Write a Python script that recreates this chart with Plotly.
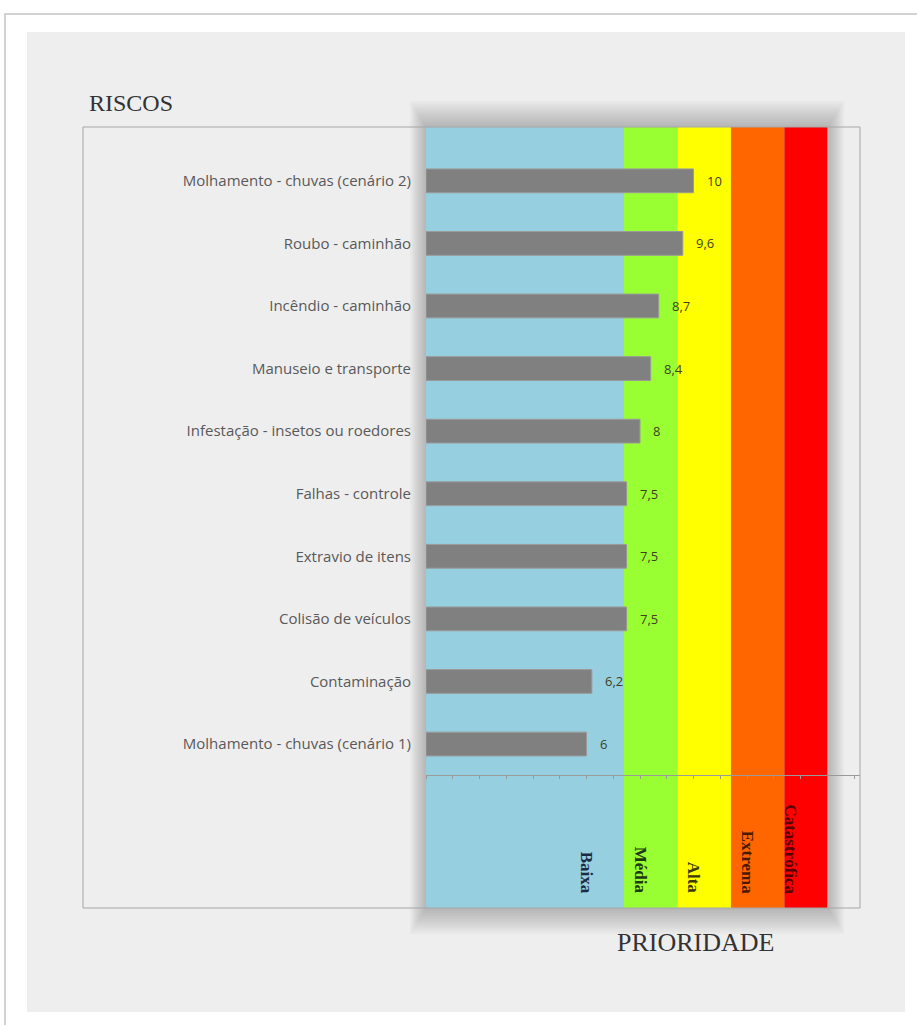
import plotly.graph_objects as go

# ---- data (top to bottom as displayed) ----
categories = [
    "Molhamento - chuvas (cenário 2)",
    "Roubo - caminhão",
    "Incêndio - caminhão",
    "Manuseio e transporte",
    "Infestação - insetos ou roedores",
    "Falhas - controle",
    "Extravio de itens",
    "Colisão de veículos",
    "Contaminação",
    "Molhamento - chuvas (cenário 1)",
]
values = [10, 9.6, 8.7, 8.4, 8, 7.5, 7.5, 7.5, 6.2, 6]

band_names = ["Baixa", "Média", "Alta", "Extrema", "Catastrófica"]
band_edges = [0, 7.4, 9.4, 11.4, 13.4, 15.0]
band_colors = ["#96cfdf", "#99ff33", "#ffff00", "#ff6600", "#ff0000"]
band_text_colors = ["#1c2a44", "#1f3a10", "#3a3a00", "#4a1a00", "#5a0000"]

W, H = 917, 1025
L, R, T, B = 426, 860, 127, 908  # plot area in pixels


def px_x(p):
    return (p - L) / (R - L)


def px_y(p):
    return (B - p) / (B - T)


cats_bottom_up = categories[::-1]
vals_bottom_up = values[::-1]

fig = go.Figure()
fig.add_trace(go.Bar(
    x=vals_bottom_up, y=cats_bottom_up, orientation="h",
    width=0.38,
    marker=dict(color="#808080", line=dict(color="#9a9a9a", width=1)),
    hoverinfo="skip",
))

shapes = []
# outer page border
shapes.append(dict(type="rect", xref="paper", yref="paper",
                   x0=px_x(5), x1=px_x(930), y0=px_y(1040), y1=px_y(14),
                   line=dict(color="#c4c4c4", width=1.5), fillcolor="white", layer="below"))
# gray panel
shapes.append(dict(type="rect", xref="paper", yref="paper",
                   x0=px_x(27), x1=px_x(905), y0=px_y(1012), y1=px_y(32),
                   line=dict(width=0), fillcolor="#eeeeee", layer="below"))
# soft shadow around band area
for i in range(1, 11):
    d = i * 2.0
    shapes.append(dict(type="rect", xref="paper", yref="paper",
                       x0=px_x(L - d * 0.8), x1=px_x(828 + d * 0.8), y0=px_y(B + d * 1.3), y1=px_y(T - d * 1.3),
                       line=dict(width=0), fillcolor="rgba(0,0,0,0.022)", layer="below"))
# priority bands
for i, name in enumerate(band_names):
    shapes.append(dict(type="rect", xref="x", yref="paper",
                       x0=band_edges[i], x1=band_edges[i + 1], y0=0, y1=1,
                       line=dict(width=0), fillcolor=band_colors[i], layer="below"))
# plot box border (includes label area)
shapes.append(dict(type="rect", xref="paper", yref="paper",
                   x0=px_x(83), x1=px_x(860), y0=0, y1=1,
                   line=dict(color="#a6a6a6", width=1), fillcolor="rgba(0,0,0,0)", layer="above"))

annotations = []
# value labels
for c, v in zip(cats_bottom_up, vals_bottom_up):
    annotations.append(dict(x=v, y=c, xref="x", yref="y", text=f"{v:g}".replace(".", ","),
                            showarrow=False, xanchor="left", xshift=11,
                            font=dict(family="Open Sans", size=13, color="#3f3f22")))
# band labels (rotated)
for i, name in enumerate(band_names):
    annotations.append(dict(x=band_edges[i + 1] - 1.37, y=px_y(896), xref="x", yref="paper",
                            text=f"<b>{name}</b>", showarrow=False, textangle=90,
                            xanchor="center", yanchor="bottom",
                            font=dict(family="Liberation Serif", size=17, color=band_text_colors[i])))
annotations.append(dict(x=px_x(87), y=px_y(103), xref="paper", yref="paper", text="RISCOS",
                        showarrow=False, xanchor="left", yanchor="middle",
                        font=dict(family="Liberation Serif", size=24, color="#333333")))
annotations.append(dict(x=px_x(695), y=px_y(942), xref="paper", yref="paper", text="PRIORIDADE",
                        showarrow=False, xanchor="center", yanchor="middle",
                        font=dict(family="Liberation Serif", size=26, color="#333333")))

fig.update_layout(
    width=W, height=H,
    margin=dict(l=L, r=W - R, t=T, b=H - B, pad=0),
    paper_bgcolor="white", plot_bgcolor="rgba(0,0,0,0)",
    showlegend=False,
    shapes=shapes, annotations=annotations,
    xaxis=dict(range=[0, (R - L) / 26.75], anchor="free", position=px_y(775),
               showgrid=False, zeroline=False, showline=True, linecolor="#9a9a9a", linewidth=1,
               ticks="outside", ticklen=3, tickcolor="#9a9a9a", dtick=1, tick0=0,
               showticklabels=False),
    yaxis=dict(type="category", categoryorder="array", categoryarray=cats_bottom_up,
               range=[-2.62, 9.86], showgrid=False, zeroline=False,
               showline=False, ticks="", ticklabelstandoff=14,
               tickfont=dict(family="Open Sans", size=15, color="#595959")),
)

fig.write_html("out.html")
